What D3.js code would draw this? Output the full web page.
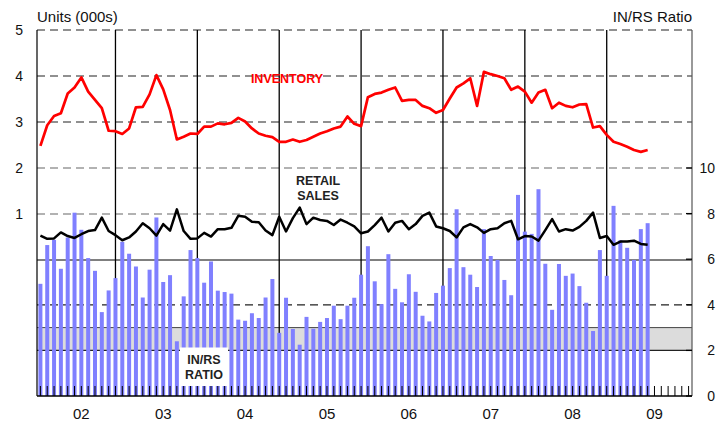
<!DOCTYPE html>
<html>
<head>
<meta charset="utf-8">
<script src="https://cdn.jsdelivr.net/npm/d3@7"></script>
<style>
  body { margin: 0; background: #fff; }
  text { font-family: "Liberation Sans", Arial, sans-serif; }
</style>
</head>
<body>
<svg width="724" height="426"></svg>
<script>
// DATA (monthly, Jul 2001 - Dec 2008)
const inventory = [
  2.48, 2.93, 3.13, 3.19, 3.62, 3.75, 3.97, 3.66, 3.48, 3.30,
  2.81, 2.80, 2.74, 2.86, 3.32, 3.33, 3.60, 4.02, 3.71, 3.26,
  2.62, 2.68, 2.75, 2.74, 2.90, 2.90, 2.97, 2.95, 2.98, 3.09,
  3.01, 2.86, 2.75, 2.70, 2.67, 2.57, 2.57, 2.62, 2.57, 2.61,
  2.68, 2.75, 2.80, 2.86, 2.90, 3.12, 2.96, 2.91, 3.54, 3.61,
  3.64, 3.70, 3.75, 3.46, 3.48, 3.48, 3.35, 3.30, 3.20, 3.26,
  3.51, 3.75, 3.84, 3.95, 3.35, 4.09, 4.04, 4.00, 3.95, 3.70,
  3.77, 3.66, 3.42, 3.64, 3.70, 3.30, 3.42, 3.35, 3.32, 3.38,
  3.39, 2.88, 2.91, 2.72, 2.57, 2.52, 2.46, 2.39, 2.35, 2.39
];
const retailSales = [
  0.53, 0.46, 0.47, 0.60, 0.52, 0.48, 0.56, 0.63, 0.65, 0.92,
  0.63, 0.54, 0.43, 0.49, 0.62, 0.80, 0.69, 0.53, 0.78, 0.64,
  1.10, 0.63, 0.46, 0.47, 0.59, 0.51, 0.67, 0.67, 0.70, 0.96,
  0.94, 0.83, 0.82, 0.64, 0.54, 0.94, 0.62, 0.91, 1.14, 0.78,
  0.92, 0.87, 0.85, 0.76, 0.88, 0.81, 0.73, 0.58, 0.62, 0.76,
  0.92, 0.62, 0.81, 0.85, 0.67, 0.78, 0.96, 1.03, 0.73, 0.69,
  0.63, 0.49, 0.71, 0.78, 0.71, 0.59, 0.67, 0.69, 0.80, 0.85,
  0.45, 0.52, 0.51, 0.42, 0.65, 0.89, 0.62, 0.67, 0.64, 0.72,
  0.85, 1.03, 0.48, 0.52, 0.33, 0.40, 0.40, 0.42, 0.35, 0.33
];
const ratio = [
  4.92, 6.62, 6.85, 5.58, 6.95, 8.04, 7.29, 6.05, 5.49, 3.68,
  4.63, 5.17, 6.76, 6.24, 5.68, 4.32, 5.54, 7.83, 5.00, 5.30,
  2.40, 4.37, 6.40, 6.05, 4.97, 5.90, 4.62, 4.56, 4.49, 3.35,
  3.30, 3.63, 3.42, 4.32, 5.13, 2.77, 4.31, 2.94, 2.25, 3.47,
  2.95, 3.25, 3.42, 3.96, 3.37, 3.96, 4.31, 5.32, 6.57, 5.03,
  4.03, 6.22, 4.70, 4.11, 5.34, 4.57, 3.52, 3.27, 4.52, 4.84,
  5.61, 8.19, 5.65, 5.32, 4.78, 7.32, 6.14, 5.97, 5.09, 4.42,
  8.82, 7.21, 7.11, 9.07, 5.80, 3.78, 5.79, 5.27, 5.37, 4.82,
  4.09, 2.85, 6.40, 5.27, 8.34, 6.83, 6.50, 5.97, 7.32, 7.58
];
const leftTicks = [1, 2, 3, 4, 5];
const rightTicks = [0, 2, 4, 6, 8, 10];
const yearLabels = ["02", "03", "04", "05", "06", "07", "08", "09"];

// axis months: Jul 2001 .. Jun 2009
const months = d3.timeMonth.range(new Date(2001, 6, 1), new Date(2009, 6, 1));

const svg = d3.select("svg");
const margin = { top: 30, left: 37, right: 32, bottom: 30 };
const width = +svg.attr("width");
const height = +svg.attr("height");
const plotRight = width - margin.right;
const plotBottom = height - margin.bottom;

// SCALES
const x = d3.scaleBand().domain(d3.range(months.length)).range([margin.left, plotRight]).padding(0);
const cx = i => x(i) + x.bandwidth() / 2;
const yLeft = d3.scaleLinear().domain([0, 5]).range([260, margin.top]);
const yRight = d3.scaleLinear().domain([0, 10]).range([plotBottom, 168]);

// grey band (ratio 2-3)
svg.append("rect")
  .attr("x", margin.left).attr("width", plotRight - margin.left)
  .attr("y", yRight(3)).attr("height", yRight(2) - yRight(3))
  .attr("fill", "#dcdcdc");
svg.append("line")
  .attr("x1", margin.left).attr("x2", plotRight)
  .attr("y1", yRight(3)).attr("y2", yRight(3))
  .attr("stroke", "#444").attr("stroke-width", 1);
svg.append("line")
  .attr("x1", margin.left).attr("x2", plotRight)
  .attr("y1", yRight(2)).attr("y2", yRight(2))
  .attr("stroke", "#222").attr("stroke-width", 1.3);

// dashed grid lines
svg.selectAll(".gridL").data(leftTicks).enter().append("line")
  .attr("x1", margin.left).attr("x2", plotRight)
  .attr("y1", d => yLeft(d)).attr("y2", d => yLeft(d))
  .attr("stroke", d => d <= 2 ? "#666" : "#222")
  .attr("stroke-width", 1.2)
  .attr("stroke-dasharray", "8,5");
svg.append("line")
  .attr("x1", margin.left).attr("x2", plotRight)
  .attr("y1", yRight(4)).attr("y2", yRight(4))
  .attr("stroke", "#222").attr("stroke-width", 1.2)
  .attr("stroke-dasharray", "8,5");
// solid zero line for units
svg.append("line")
  .attr("x1", margin.left).attr("x2", plotRight)
  .attr("y1", yLeft(0)).attr("y2", yLeft(0))
  .attr("stroke", "#000").attr("stroke-width", 1);

// yearly vertical lines (June)
const juneIdx = d3.range(11, 90, 12);
svg.selectAll(".vline").data(juneIdx).enter().append("line")
  .attr("x1", cx).attr("x2", cx)
  .attr("y1", margin.top).attr("y2", plotBottom)
  .attr("stroke", "#000").attr("stroke-width", 1.3);

// bars
svg.selectAll(".bar").data(ratio).enter().append("rect")
  .attr("x", (d, i) => cx(i) - 2)
  .attr("width", 4)
  .attr("y", d => yRight(d))
  .attr("height", d => plotBottom - yRight(d))
  .attr("fill", "#8080ff");

// frame
svg.append("line").attr("x1", margin.left).attr("x2", margin.left)
  .attr("y1", margin.top).attr("y2", plotBottom).attr("stroke", "#000").attr("stroke-width", 1.2);
svg.append("line").attr("x1", plotRight).attr("x2", plotRight)
  .attr("y1", margin.top).attr("y2", plotBottom).attr("stroke", "#555").attr("stroke-width", 1.2);
svg.append("line").attr("x1", margin.left).attr("x2", plotRight)
  .attr("y1", plotBottom).attr("y2", plotBottom).attr("stroke", "#000").attr("stroke-width", 1.3);

// monthly ticks
svg.selectAll(".mtick").data(months).enter().append("line")
  .attr("x1", (d, i) => cx(i)).attr("x2", (d, i) => cx(i))
  .attr("y1", plotBottom - 10).attr("y2", plotBottom)
  .attr("stroke", "#000").attr("stroke-width", 1);

// right inward ticks
svg.selectAll(".rtick").data(rightTicks).enter().append("line")
  .attr("x1", plotRight - 6).attr("x2", plotRight)
  .attr("y1", d => yRight(d)).attr("y2", d => yRight(d))
  .attr("stroke", "#000").attr("stroke-width", 1.3);

// IN/RS RATIO label box
svg.append("rect")
  .attr("x", 180).attr("y", 347.5).attr("width", 48).attr("height", 38.5)
  .attr("fill", "#fff");

// lines
const lineL = d3.line().x((d, i) => cx(i)).y(d => yLeft(d));
svg.append("path").datum(retailSales)
  .attr("d", lineL).attr("fill", "none")
  .attr("stroke", "#000").attr("stroke-width", 2.5).attr("stroke-linejoin", "round");
svg.append("path").datum(inventory)
  .attr("d", lineL).attr("fill", "none")
  .attr("stroke", "#ff0000").attr("stroke-width", 2.7).attr("stroke-linejoin", "round");

// axis labels
svg.selectAll(".ltl").data(leftTicks.concat([5]).filter((d, i, a) => a.indexOf(d) === i)).enter().append("text")
  .attr("x", 23).attr("y", d => yLeft(d) + 5)
  .attr("text-anchor", "end").attr("font-size", 14).attr("fill", "#111")
  .text(d => d);
svg.selectAll(".rtl").data(rightTicks).enter().append("text")
  .attr("x", 715).attr("y", d => yRight(d) + 5)
  .attr("text-anchor", "end").attr("font-size", 14).attr("fill", "#111")
  .text(d => d);
svg.selectAll(".yl").data(yearLabels).enter().append("text")
  .attr("x", (d, i) => cx(6 + i * 12)).attr("y", 419)
  .attr("text-anchor", "middle").attr("font-size", 15).attr("fill", "#111")
  .text(d => d);

svg.append("text").attr("x", 37).attr("y", 22)
  .attr("font-size", 15).attr("fill", "#111").text("Units (000s)");
svg.append("text").attr("x", 692).attr("y", 22).attr("text-anchor", "end")
  .attr("font-size", 15).attr("fill", "#111").text("IN/RS Ratio");

// annotations
svg.append("text").attr("x", 287).attr("y", 83).attr("text-anchor", "middle")
  .attr("font-size", 12.5).attr("font-weight", "bold").attr("fill", "#ff0000")
  .text("INVENTORY");
const rs = svg.append("text").attr("text-anchor", "middle")
  .attr("font-size", 12.5).attr("font-weight", "bold").attr("fill", "#222");
rs.append("tspan").attr("x", 318).attr("y", 185).text("RETAIL");
rs.append("tspan").attr("x", 318).attr("y", 199.5).text("SALES");
const rl = svg.append("text").attr("text-anchor", "middle")
  .attr("font-size", 12.5).attr("font-weight", "bold").attr("fill", "#222");
rl.append("tspan").attr("x", 204).attr("y", 364).text("IN/RS");
rl.append("tspan").attr("x", 204).attr("y", 379).text("RATIO");
</script>
</body>
</html>
